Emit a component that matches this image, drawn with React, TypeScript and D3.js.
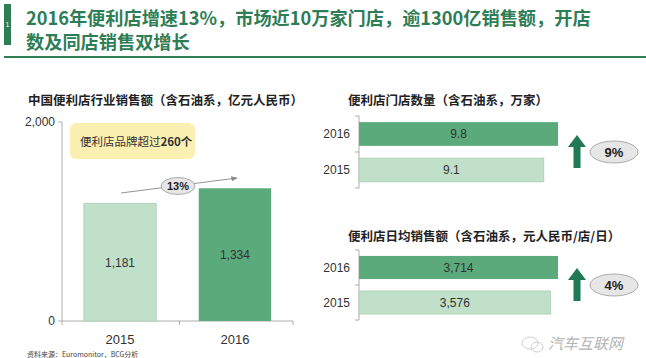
import React from "react";
import * as d3 from "d3";

const titleLines = ["2016年便利店增速13%，市场近10万家门店，逾1300亿销售额，开店", "数及同店销售双增长"];
const salesTitle = "中国便利店行业销售额（含石油系，亿元人民币）";
const salesYears = ["2015", "2016"];
const salesValues = [1181, 1334];
const salesTicks = [0, 2000];
const salesGrowth = "13%";
const brandNote = "便利店品牌超过";
const brandNoteBold = "260个";

const storeTitle = "便利店门店数量（含石油系，万家）";
const storeYears = ["2016", "2015"];
const storeValues = [9.8, 9.1];
const storeGrowth = "9%";

const dailyTitle = "便利店日均销售额（含石油系，元人民币/店/日）";
const dailyYears = ["2016", "2015"];
const dailyValues = [3714, 3576];
const dailyGrowth = "4%";

const source = "资料来源：Euromonitor，BCG分析";
const watermark = "汽车互联网";

const GREEN_DARK = "#5aaa7c";
const GREEN_LIGHT = "#c0e0c9";
const GREEN_LIGHT_STROKE = "#a9cfb3";
const TITLE_GREEN = "#2e7d55";
const ARROW_GREEN = "#1f7a55";
const CJK = "'Noto Sans CJK SC', 'Noto Sans', sans-serif";
const LAT = "'Liberation Sans', Arial, sans-serif";

function fmt(v: number) {
  return v >= 1000 ? d3.format(",")(v) : String(v);
}

function UpArrow({ x, y0, y1 }: { x: number; y0: number; y1: number }) {
  const hw = 9, sw = 3.5, hh = 12;
  const path = d3.path();
  path.moveTo(x, y0);
  path.lineTo(x + hw, y0 + hh);
  path.lineTo(x + sw, y0 + hh);
  path.lineTo(x + sw, y1);
  path.lineTo(x - sw, y1);
  path.lineTo(x - sw, y0 + hh);
  path.lineTo(x - hw, y0 + hh);
  path.closePath();
  return <path d={path.toString()} fill={ARROW_GREEN} />;
}

function Badge({ cx, cy, rx, ry, text, size }: { cx: number; cy: number; rx: number; ry: number; text: string; size: number }) {
  return (
    <g>
      <ellipse cx={cx} cy={cy} rx={rx} ry={ry} fill="#e6e6e6" stroke="#9a9a9a" strokeWidth={0.8} />
      <text x={cx} y={cy} dy="0.36em" textAnchor="middle" fontFamily={LAT} fontWeight="bold" fontSize={size} fill="#222">{text}</text>
    </g>
  );
}

function HBarPanel({ top, title, years, values, growth, maxVal, bands }: any) {
  const x0 = 359;
  const x = d3.scaleLinear().domain([0, maxVal]).range([x0, 558]);
  const y = d3.scaleBand().domain(years).range([bands[0], bands[1]]).paddingInner(0.34).paddingOuter(0.17);
  const axisTop = bands[0];
  const axisBot = bands[1];
  const mid = (axisTop + axisBot) / 2;
  return (
    <g>
      <text x={348} y={top} fontFamily={CJK} fontWeight="bold" fontSize={12.5} fill="#222">{title}</text>
      <line x1={x0} x2={x0} y1={axisTop} y2={axisBot} stroke="#999" strokeWidth={0.8} />
      {[axisTop, mid, axisBot].map((t, i) => (
        <line key={i} x1={x0 - 4} x2={x0} y1={t} y2={t} stroke="#999" strokeWidth={0.8} />
      ))}
      {years.map((yr: string, i: number) => {
        const by = y(yr) as number;
        const bh = y.bandwidth();
        const dark = yr === "2016";
        return (
          <g key={yr}>
            <rect x={x0} y={by} width={x(values[i]) - x0} height={bh} fill={dark ? GREEN_DARK : GREEN_LIGHT} stroke={dark ? "none" : GREEN_LIGHT_STROKE} strokeWidth={0.8} />
            <text x={(x0 + x(values[i])) / 2} y={by + bh / 2} dy="0.36em" textAnchor="middle" fontFamily={LAT} fontSize={12} fill="#333">{fmt(values[i])}</text>
            <text x={350} y={by + bh / 2} dy="0.36em" textAnchor="end" fontFamily={LAT} fontSize={12} fill="#333">{yr}</text>
          </g>
        );
      })}
      <UpArrow x={577} y0={mid - 17} y1={mid + 16} />
      <Badge cx={614} cy={mid} rx={24} ry={11} text={growth} size={13} />
    </g>
  );
}

export default function App() {
  const y = d3.scaleLinear().domain([0, 2000]).range([321, 122]);
  const x = d3.scaleBand().domain(salesYears).range([62, 293]).paddingInner(0.37).paddingOuter(0.19);
  const axisMidX = (62 + 293) / 2 + 2;
  return (
    <svg width={646} height={358} style={{ position: "absolute", left: 0, top: 0, background: "#fff" }}>
      <rect x={4} y={4} width={7} height={41} fill={TITLE_GREEN} />
      <text x={7.5} y={27} textAnchor="middle" fontFamily={LAT} fontSize={7} fill="#fff">1</text>
      {titleLines.map((l, i) => (
        <text key={i} x={26} y={25 + i * 23.5} fontFamily={CJK} fontWeight="bold" fontSize={18.2} fill={TITLE_GREEN}>{l}</text>
      ))}
      <line x1={4} x2={646} y1={57} y2={57} stroke={TITLE_GREEN} strokeWidth={2} />

      {/* Left chart */}
      <text x={28} y={105} fontFamily={CJK} fontWeight="bold" fontSize={12.5} fill="#222">{salesTitle}</text>
      <line x1={62} x2={62} y1={y(2000)} y2={y(0)} stroke="#999" strokeWidth={0.8} />
      <line x1={62} x2={293} y1={y(0)} y2={y(0)} stroke="#999" strokeWidth={0.8} />
      {salesTicks.map((t) => (
        <g key={t}>
          <line x1={58} x2={62} y1={y(t)} y2={y(t)} stroke="#999" strokeWidth={0.8} />
          <text x={55} y={y(t)} dy="0.36em" textAnchor="end" fontFamily={LAT} fontSize={12} fill="#333">{d3.format(",")(t)}</text>
        </g>
      ))}
      {[62, axisMidX, 293].map((t, i) => (
        <line key={i} x1={t} x2={t} y1={y(0)} y2={y(0) + 4} stroke="#999" strokeWidth={0.8} />
      ))}
      {salesYears.map((yr, i) => {
        const bx = x(yr) as number;
        const bw = x.bandwidth();
        const dark = yr === "2016";
        return (
          <g key={yr}>
            <rect x={bx} y={y(salesValues[i])} width={bw} height={y(0) - y(salesValues[i])} fill={dark ? GREEN_DARK : GREEN_LIGHT} stroke={dark ? "none" : GREEN_LIGHT_STROKE} strokeWidth={0.8} />
            <text x={bx + bw / 2} y={(y(salesValues[i]) + y(0)) / 2} dy="0.36em" textAnchor="middle" fontFamily={LAT} fontSize={12} fill="#333">{fmt(salesValues[i])}</text>
            <text x={bx + bw / 2} y={339} dy="0.36em" textAnchor="middle" fontFamily={LAT} fontSize={13} fill="#333">{yr}</text>
          </g>
        );
      })}
      <rect x={70} y={123} width={125} height={36} rx={6} fill="#fbefb2" />
      <text x={80} y={142} dy="0.36em" fontFamily={CJK} fontSize={11.5} fill="#333">
        {brandNote}
        <tspan fontWeight="bold">{brandNoteBold}</tspan>
      </text>
      <defs>
        <marker id="ah" viewBox="0 0 10 10" refX={9} refY={5} markerWidth={7} markerHeight={7} orient="auto">
          <path d="M0,1 L10,5 L0,9 Z" fill="#888" />
        </marker>
      </defs>
      <line x1={121} y1={193} x2={237} y2={178} stroke="#888" strokeWidth={0.9} markerEnd="url(#ah)" />
      <Badge cx={178} cy={186} rx={17} ry={8.5} text={salesGrowth} size={11} />
      <text x={27} y={357} fontFamily={CJK} fontSize={7} fill="#444">{source}</text>

      {/* Right panels */}
      <HBarPanel top={105} title={storeTitle} years={storeYears} values={storeValues} growth={storeGrowth} maxVal={9.8} bands={[116, 188]} />
      <HBarPanel top={241} title={dailyTitle} years={dailyYears} values={dailyValues} growth={dailyGrowth} maxVal={3714} bands={[250, 320]} />

      {/* watermark */}
      <g opacity={0.55}>
        <ellipse cx={530} cy={343} rx={8} ry={6} fill="none" stroke="#aaa" strokeWidth={1} />
        <ellipse cx={537} cy={347} rx={6} ry={5} fill="none" stroke="#aaa" strokeWidth={1} />
      </g>
      <text x={548} y={349} fontFamily={CJK} fontSize={15} fontStyle="italic" fill="#b5b5b5">{watermark}</text>
    </svg>
  );
}
